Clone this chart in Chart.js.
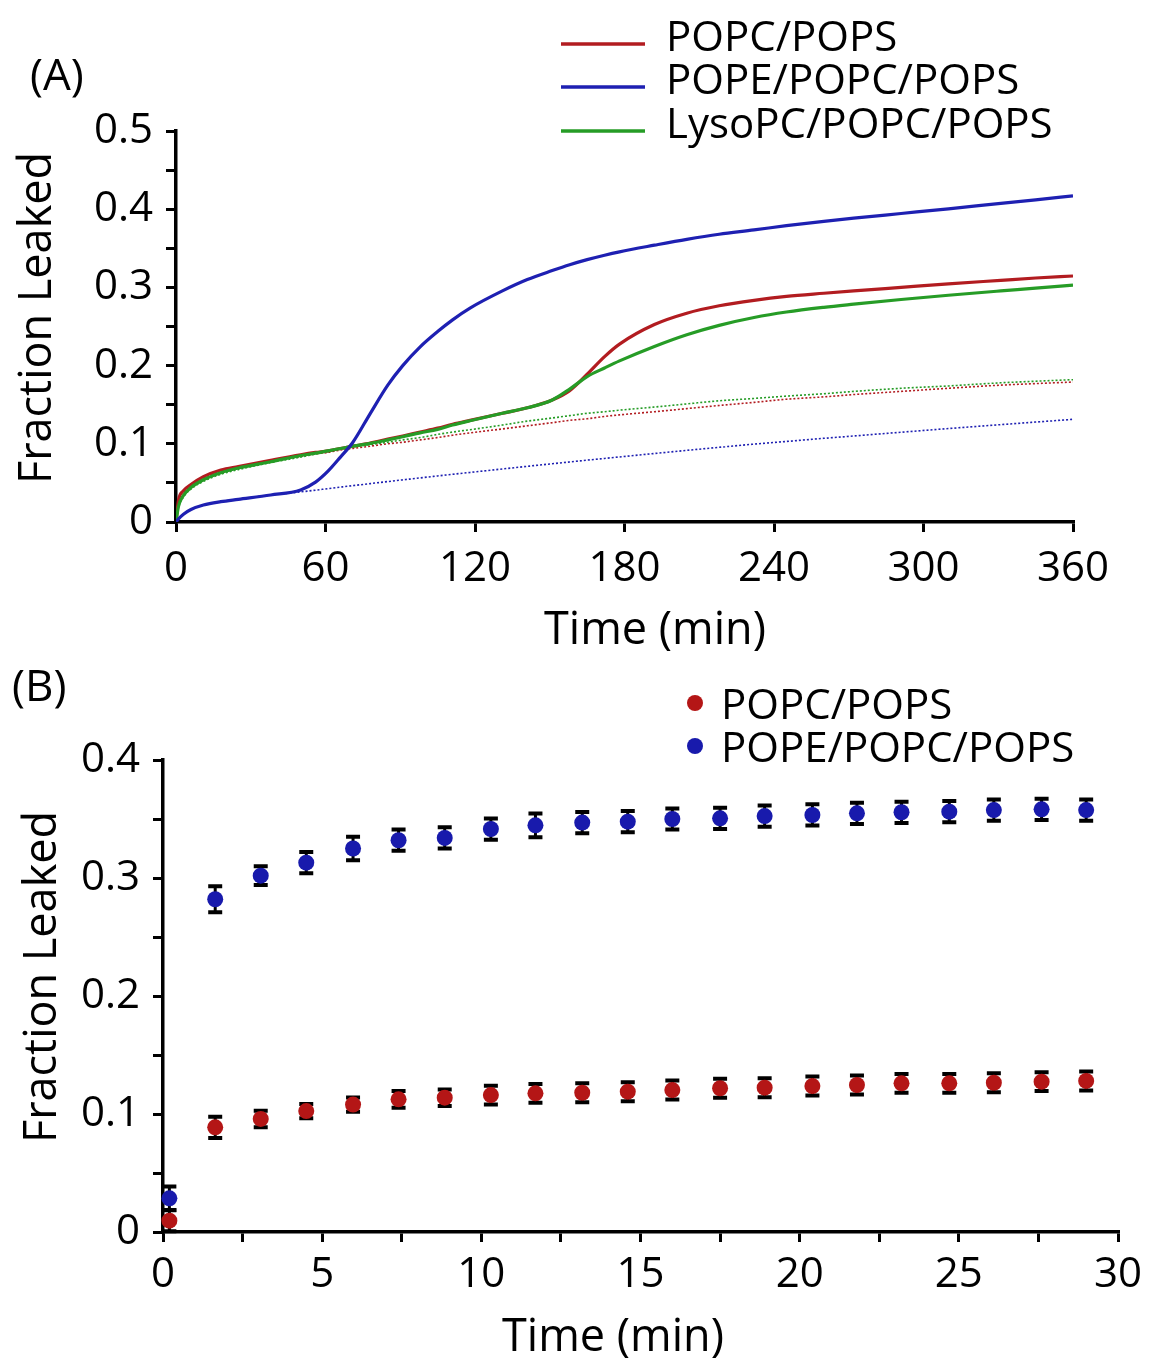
<!DOCTYPE html>
<html><head><meta charset="utf-8">
<script src="https://cdn.jsdelivr.net/npm/chart.js@4.4.1/dist/chart.umd.min.js"></script>
<style>
html,body{margin:0;padding:0;background:#fff;}
#wrap{position:relative;width:1152px;height:1359px;background:#fff;}
canvas{position:absolute;left:0;}
#cA{top:0;} #cB{top:660px;}
</style></head><body>
<div id="wrap"><canvas id="cA" width="1152" height="660"></canvas><canvas id="cB" width="1152" height="699"></canvas></div>
<script>
// ---------- Panel A data (time in min, fraction leaked) ----------
const timeA = [0, 1, 3, 6, 11, 18, 25, 38, 50, 56, 61, 66, 71, 78, 85, 91, 98, 105, 111, 118, 131, 141, 151, 158, 165, 172, 178, 192, 205, 218, 232, 245, 260, 272, 291, 310, 331, 345, 360];
const popcPopsA = [0, 0.028, 0.040, 0.048, 0.058, 0.0665, 0.071, 0.079, 0.086, 0.089, 0.091, 0.094, 0.097, 0.101, 0.106, 0.110, 0.115, 0.120, 0.125, 0.130, 0.139, 0.146, 0.156, 0.168, 0.189, 0.2115, 0.2275, 0.2525, 0.267, 0.2765, 0.2835, 0.2885, 0.2925, 0.2955, 0.300, 0.3045, 0.309, 0.312, 0.3146];
const popePopcPopsA = [0, 0.004, 0.010, 0.016, 0.0217, 0.026, 0.029, 0.0345, 0.041, 0.051, 0.065, 0.083, 0.102, 0.139, 0.175, 0.200, 0.224, 0.2435, 0.2585, 0.2735, 0.2955, 0.310, 0.3215, 0.329, 0.3355, 0.3412, 0.3455, 0.354, 0.3615, 0.368, 0.3735, 0.379, 0.3845, 0.3885, 0.3945, 0.4005, 0.4075, 0.412, 0.417];
const lysoPopcPopsA = [0, 0.020, 0.034, 0.044, 0.054, 0.063, 0.069, 0.077, 0.085, 0.088, 0.091, 0.094, 0.097, 0.1006, 0.105, 0.109, 0.114, 0.1185, 0.124, 0.1295, 0.139, 0.146, 0.156, 0.170, 0.186, 0.197, 0.206, 0.2245, 0.2395, 0.2515, 0.2615, 0.2685, 0.2745, 0.2785, 0.2845, 0.290, 0.2955, 0.299, 0.303];
// dotted control traces
const popcPopsCtrl = [0, 0.026, 0.038, 0.046, 0.056, 0.064, 0.069, 0.077, 0.084, 0.087, 0.089, 0.092, 0.094, 0.097, 0.100, 0.102, 0.105, 0.108, 0.111, 0.114, 0.119, 0.123, 0.127, 0.130, 0.132, 0.135, 0.137, 0.141, 0.145, 0.149, 0.153, 0.157, 0.160, 0.163, 0.167, 0.171, 0.175, 0.177, 0.179];
const popePopcPopsCtrl = [0, 0.004, 0.010, 0.016, 0.0217, 0.026, 0.029, 0.0345, 0.0385, 0.0407, 0.0427, 0.0446, 0.0465, 0.0491, 0.0517, 0.0539, 0.0564, 0.0589, 0.061, 0.0634, 0.0678, 0.0712, 0.0745, 0.0768, 0.0791, 0.0813, 0.0832, 0.0876, 0.0916, 0.0955, 0.0996, 0.1030, 0.107, 0.110, 0.1148, 0.1195, 0.1245, 0.1278, 0.1313];
const lysoPopcPopsCtrl = [0, 0.018, 0.032, 0.042, 0.052, 0.061, 0.067, 0.076, 0.083, 0.087, 0.090, 0.093, 0.096, 0.099, 0.102, 0.105, 0.108, 0.112, 0.115, 0.118, 0.124, 0.129, 0.133, 0.136, 0.139, 0.141, 0.143, 0.147, 0.151, 0.155, 0.158, 0.161, 0.164, 0.167, 0.171, 0.174, 0.178, 0.180, 0.182];
const seriesNamesA = ['POPC/POPS', 'POPE/POPC/POPS', 'LysoPC/POPC/POPS'];

// ---------- Panel B data ----------
const timeB = [0.2, 1.64, 3.07, 4.5, 5.97, 7.4, 8.85, 10.3, 11.7, 13.17, 14.6, 16.0, 17.5, 18.9, 20.4, 21.8, 23.2, 24.7, 26.1, 27.6, 29.0];
const popcPopsB = [0.0096, 0.0887, 0.0958, 0.1025, 0.108, 0.1124, 0.1138, 0.116, 0.1175, 0.118, 0.1189, 0.1203, 0.1218, 0.1223, 0.1237, 0.1246, 0.126, 0.126, 0.1265, 0.1274, 0.128];
const popcPopsErrB = [0.009, 0.009, 0.007, 0.006, 0.006, 0.007, 0.007, 0.008, 0.008, 0.008, 0.008, 0.008, 0.008, 0.008, 0.008, 0.008, 0.008, 0.008, 0.008, 0.008, 0.008];
const popePopcPopsB = [0.0285, 0.282, 0.302, 0.313, 0.325, 0.332, 0.334, 0.3415, 0.3446, 0.347, 0.3477, 0.350, 0.3506, 0.3525, 0.3534, 0.3548, 0.3557, 0.3562, 0.3576, 0.3582, 0.3576];
const popePopcPopsErrB = [0.010, 0.011, 0.008, 0.009, 0.010, 0.009, 0.009, 0.009, 0.010, 0.009, 0.009, 0.009, 0.009, 0.009, 0.009, 0.009, 0.009, 0.009, 0.009, 0.009, 0.009];
const seriesNamesB = ['POPC/POPS', 'POPE/POPC/POPS'];

// ---------- tick / axis labels ----------
const yTitle = 'Fraction Leaked';
const xTitle = 'Time (min)';
const panelLabels = ['(A)', '(B)'];

// ---------- styling ----------
const FONT = "'Open Sans', sans-serif";
const RED = 'rgb(178,28,32)';
const BLUE = 'rgb(30,32,178)';
const GREEN = 'rgb(38,156,38)';
const RED_PT = 'rgb(180,22,22)';
const BLUE_PT = 'rgb(24,26,172)';

Chart.defaults.font.family = FONT;
Chart.defaults.color = '#000';

function pts(xs, ys){ return xs.map((x,i)=>({x:x, y:ys[i]})); }
function lineDs(label, xs, ys, color, width, dash, order){
  return {label, data: pts(xs, ys), borderColor: color, backgroundColor: color,
    borderWidth: width, borderDash: dash, pointRadius: 0, pointHoverRadius: 0,
    cubicInterpolationMode: 'monotone', fill: false, order: order};
}
function axisStyle(){
  return {
    grid: {drawOnChartArea: false, drawTicks: true, tickLength: 10, color: '#000', lineWidth: 3},
    border: {display: true, color: '#000', width: 3.5}
  };
}
function capText(ctx, txt, x, capCenterY, size, align){
  ctx.font = size + 'px ' + FONT;
  ctx.textAlign = align || 'left';
  ctx.textBaseline = 'alphabetic';
  ctx.fillText(txt, x, capCenterY + 0.357*size);
}

// ---------- Panel A ----------
const textA = {
  id: 'textA',
  afterDraw(chart){
    const ctx = chart.ctx;
    ctx.save();
    ctx.fillStyle = '#000';
    capText(ctx, panelLabels[0], 30, 74, 44, 'left');
    capText(ctx, xTitle, 655, 628, 45, 'center');
    ctx.save();
    ctx.translate(35, 318); ctx.rotate(-Math.PI/2);
    capText(ctx, yTitle, 0, 0, 45, 'center');
    ctx.restore();
    const legend = [[seriesNamesA[0], RED], [seriesNamesA[1], BLUE], [seriesNamesA[2], GREEN]];
    const lineY = [44, 87, 131];
    legend.forEach((e, i) => {
      ctx.strokeStyle = e[1]; ctx.lineWidth = 3.5;
      ctx.beginPath(); ctx.moveTo(561, lineY[i]); ctx.lineTo(645, lineY[i]); ctx.stroke();
      ctx.fillStyle = '#000';
      capText(ctx, e[0], 666, lineY[i] - 8, 42, 'left');
    });
    ctx.restore();
  }
};

new Chart(document.getElementById('cA'), {
  type: 'line',
  data: {datasets: [
    lineDs(seriesNamesA[1], timeA, popePopcPopsA, BLUE, 3.2, [], 0),
    lineDs(seriesNamesA[2], timeA, lysoPopcPopsA, GREEN, 3.2, [], 1),
    lineDs(seriesNamesA[0], timeA, popcPopsA, RED, 3.2, [], 2),
    lineDs(seriesNamesA[1] + ' control', timeA, popePopcPopsCtrl, BLUE, 1.6, [2, 2], 3),
    lineDs(seriesNamesA[2] + ' control', timeA, lysoPopcPopsCtrl, GREEN, 1.6, [2, 2], 4),
    lineDs(seriesNamesA[0] + ' control', timeA, popcPopsCtrl, RED, 1.6, [2, 2], 5)
  ]},
  options: {
    responsive: false, animation: false, devicePixelRatio: 1,
    layout: {padding: {top: 131, right: 79, left: 0, bottom: 0}},
    plugins: {legend: {display: false}, tooltip: {enabled: false}, title: {display: false}},
    scales: {
      x: Object.assign(axisStyle(), {type: 'linear', min: 0, max: 360,
        ticks: {stepSize: 60, autoSkip: false, maxRotation: 0, padding: 12, font: {size: 42}, color: '#000'},
        afterFit(s){ s.height = 138; }}),
      y: Object.assign(axisStyle(), {type: 'linear', min: 0, max: 0.5,
        ticks: {stepSize: 0.05, autoSkip: false, padding: 13, font: {size: 42}, color: '#000',
          callback: v => (Math.round(v*20) % 2 === 0) ? String(Math.round(v*10)/10) : ''},
        afterFit(s){ s.width = 176; }})
    }
  },
  plugins: [textA]
});

// ---------- Panel B ----------
const errBars = {
  id: 'errBars',
  beforeDatasetsDraw(chart){
    const ctx = chart.ctx, xs = chart.scales.x, ys = chart.scales.y;
    ctx.save();
    ctx.strokeStyle = '#000';
    chart.data.datasets.forEach(ds => {
      ds.errors.forEach((e, i) => {
        const p = ds.data[i];
        const x = xs.getPixelForValue(p.x);
        const y1 = ys.getPixelForValue(p.y - e), y2 = ys.getPixelForValue(p.y + e);
        ctx.lineWidth = 3;
        ctx.beginPath(); ctx.moveTo(x, y1); ctx.lineTo(x, y2); ctx.stroke();
        ctx.lineWidth = 4;
        ctx.beginPath();
        ctx.moveTo(x - 7, y1); ctx.lineTo(x + 7, y1);
        ctx.moveTo(x - 7, y2); ctx.lineTo(x + 7, y2);
        ctx.stroke();
      });
    });
    ctx.restore();
  }
};
const textB = {
  id: 'textB',
  afterDraw(chart){
    const ctx = chart.ctx;
    ctx.save();
    ctx.fillStyle = '#000';
    capText(ctx, panelLabels[1], 12, 25, 44, 'left');
    capText(ctx, xTitle, 613, 675, 45, 'center');
    ctx.save();
    ctx.translate(40, 317); ctx.rotate(-Math.PI/2);
    capText(ctx, yTitle, 0, 0, 45, 'center');
    ctx.restore();
    const legend = [[seriesNamesB[0], RED_PT], [seriesNamesB[1], BLUE_PT]];
    const rowY = [43, 86];
    legend.forEach((e, i) => {
      ctx.fillStyle = e[1];
      ctx.beginPath(); ctx.arc(695, rowY[i], 8, 0, Math.PI*2); ctx.fill();
      ctx.fillStyle = '#000';
      capText(ctx, e[0], 721, rowY[i] + 1, 42, 'left');
    });
    ctx.restore();
  }
};

new Chart(document.getElementById('cB'), {
  type: 'scatter',
  data: {datasets: [
    {label: seriesNamesB[1], data: pts(timeB, popePopcPopsB), errors: popePopcPopsErrB,
      backgroundColor: BLUE_PT, borderColor: BLUE_PT, borderWidth: 0, pointRadius: 8, pointHoverRadius: 8, clip: false},
    {label: seriesNamesB[0], data: pts(timeB, popcPopsB), errors: popcPopsErrB,
      backgroundColor: RED_PT, borderColor: RED_PT, borderWidth: 0, pointRadius: 8, pointHoverRadius: 8, clip: false}
  ]},
  options: {
    responsive: false, animation: false, devicePixelRatio: 1,
    layout: {padding: {top: 100, right: 34, left: 0, bottom: 0}},
    plugins: {legend: {display: false}, tooltip: {enabled: false}, title: {display: false}},
    scales: {
      x: Object.assign(axisStyle(), {type: 'linear', min: 0, max: 30,
        ticks: {stepSize: 2.5, autoSkip: false, maxTicksLimit: 50, maxRotation: 0, padding: 8, font: {size: 42}, color: '#000',
          callback: v => (Math.round(v*2) % 10 === 0) ? String(Math.round(v)) : ''},
        afterFit(s){ s.height = 127; }}),
      y: Object.assign(axisStyle(), {type: 'linear', min: 0, max: 0.4,
        ticks: {stepSize: 0.05, autoSkip: false, padding: 13, font: {size: 42}, color: '#000',
          callback: v => (Math.round(v*20) % 2 === 0) ? String(Math.round(v*10)/10) : ''},
        afterFit(s){ s.width = 163; }})
    }
  },
  plugins: [errBars, textB]
});
</script>
</body></html>
